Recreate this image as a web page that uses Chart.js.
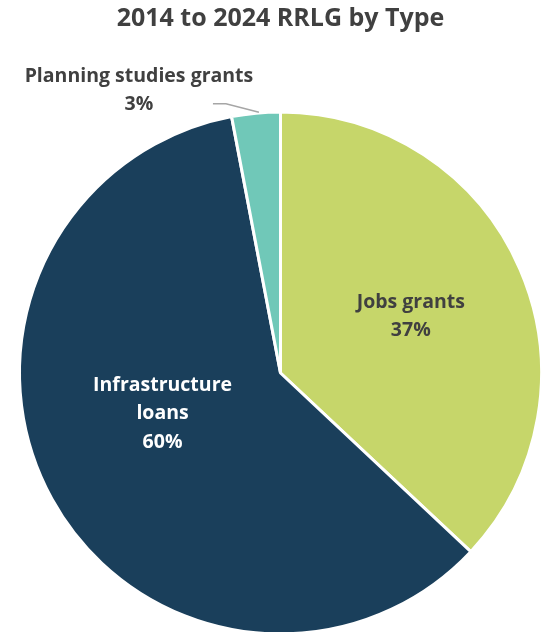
<!DOCTYPE html>
<html>
<head>
<meta charset="utf-8">
<script src="https://cdn.jsdelivr.net/npm/chart.js@4.4.1/dist/chart.umd.min.js"></script>
<style>
  html, body { margin: 0; padding: 0; background: #ffffff; overflow: hidden; }
  #wrap { position: relative; width: 543px; height: 640px; }
</style>
</head>
<body>
<div id="wrap"><canvas id="pie"></canvas></div>
<script>
// RRLG awards 2014-2024, share by type (percent)
const categories = ['Jobs grants', 'Infrastructure loans', 'Planning studies grants'];
const shares = [37, 60, 3];
const sliceColors = ['#C6D66A', '#1A3F5B', '#70C8B8'];
const labelLines = [['Jobs grants'], ['Infrastructure', 'loans'], ['Planning studies grants']];

const FONT = "'Open Sans', 'Liberation Sans', sans-serif";

// Placement of each slice's label: inside at a fraction of the radius, or outside with a leader line
const labelPlacement = [
  { inside: true, frac: 0.544, shift: 0, color: '#404040' },
  { inside: true, frac: 0.478, shift: 9.8, color: '#FFFFFF' },
  { inside: false, color: '#404040' }
];

const sliceLabels = {
  id: 'sliceLabels',
  afterDatasetsDraw(chart) {
    const ctx = chart.ctx;
    const meta = chart.getDatasetMeta(0);
    const lineH = 28.5;
    ctx.save();
    ctx.font = "bold 19.5px " + FONT;
    ctx.textAlign = 'center';
    ctx.textBaseline = 'middle';
    meta.data.forEach((arc, i) => {
      const p = arc.getProps(['x', 'y', 'startAngle', 'endAngle', 'outerRadius'], true);
      const mid = (p.startAngle + p.endAngle) / 2;
      const lines = labelLines[i].concat([shares[i] + '%']);
      const place = labelPlacement[i];
      let cx, cy;
      if (place.inside) {
        const a = mid + place.shift * Math.PI / 180;
        const r = p.outerRadius * place.frac;
        cx = p.x + Math.cos(a) * r;
        cy = p.y + Math.sin(a) * r;
      } else {
        // leader line from the rim out to the label
        const ex = p.x + Math.cos(mid) * p.outerRadius;
        const ey = p.y + Math.sin(mid) * p.outerRadius;
        const kx = ex - 30, ky = ey - 9.5;
        const tx = kx - 13;
        ctx.strokeStyle = '#A6A6A6';
        ctx.lineWidth = 1.5;
        ctx.beginPath();
        ctx.moveTo(ex + 3, ey - 1);
        ctx.lineTo(kx, ky);
        ctx.lineTo(tx, ky);
        ctx.stroke();
        cx = tx - 74;
        cy = ky - 13;
      }
      ctx.fillStyle = place.color;
      const top = cy - (lines.length - 1) * lineH / 2;
      lines.forEach((t, k) => ctx.fillText(t, cx, top + k * lineH));
    });
    ctx.restore();
  }
};

new Chart(document.getElementById('pie'), {
  type: 'pie',
  data: {
    labels: categories,
    datasets: [{
      data: shares,
      backgroundColor: sliceColors,
      borderColor: '#FFFFFF',
      borderWidth: 3,
      hoverOffset: 0,
      offset: 0
    }]
  },
  options: {
    responsive: true,
    maintainAspectRatio: false,
    animation: false,
    events: [],
    layout: { padding: { left: 18, right: 0, top: 0, bottom: 4.5 } },
    plugins: {
      legend: { display: false },
      tooltip: { enabled: false },
      title: {
        display: true,
        text: '2014 to 2024 RRLG by Type',
        color: '#404040',
        font: { family: FONT, size: 25, weight: 'bold', lineHeight: 1.2 },
        padding: { top: 4, bottom: 76.5 }
      }
    }
  },
  plugins: [sliceLabels]
});
</script>
</body>
</html>
